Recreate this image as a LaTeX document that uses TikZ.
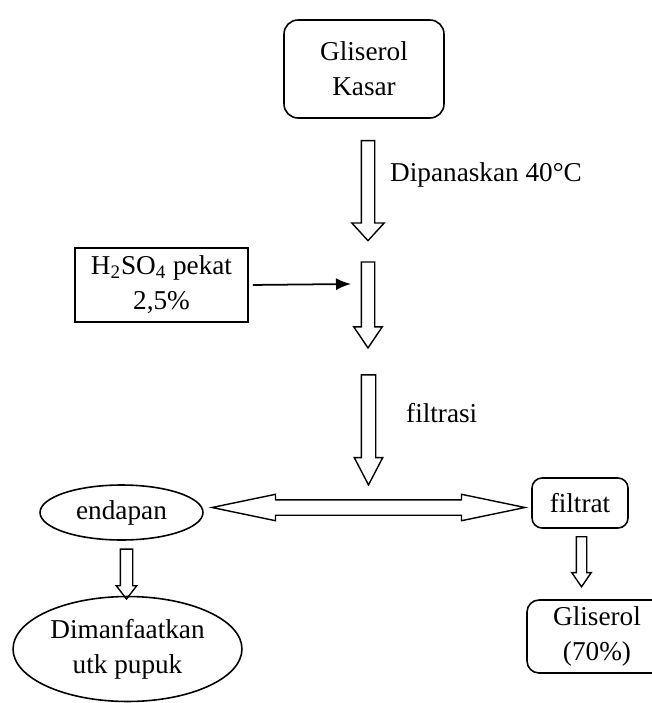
\documentclass[tikz,border=0pt]{standalone}
\usepackage{fontspec}
\setmainfont{Liberation Serif}
\usetikzlibrary{shapes,shapes.geometric,shapes.arrows,arrows.meta,positioning}

\tikzset{
  roundbox/.style={draw, line width=0.9pt, rounded corners=0.28cm, align=center, inner sep=0pt},
  plainbox/.style={draw, line width=0.9pt, align=center, inner sep=0pt},
  oval/.style={draw, ellipse, line width=0.9pt, align=center, inner sep=0pt},
  downarrow/.style={draw, single arrow, rotate=-90, line width=0.8pt, inner xsep=0pt,
    single arrow head extend=#1},
  botharrow/.style={draw, double arrow, line width=0.8pt, inner xsep=0pt,
    double arrow head extend=#1}
}

\begin{document}
\begin{tikzpicture}[x=0.02cm, y=-0.02cm, font=\fontsize{15.5}{20}\selectfont]
\useasboundingbox (0,0) rectangle (652,703);

% bahan awal
\node[roundbox, minimum width=3.2cm, minimum height=1.96cm] (kasar) at (364,69) {Gliserol\\Kasar};
\node[downarrow=0.19cm, inner ysep=0.12cm, minimum height=2cm, single arrow tip angle=85] (heat) at (368,187) {};
\node[anchor=base west] (heatlbl) at (384,181) {Dipanaskan 40°C};

% penambahan asam
\node[plainbox, minimum width=3.46cm, minimum height=1.48cm] (acid) at (161.5,285) {H\textsubscript{2}SO\textsubscript{4} pekat\\2,5\%};
\node[downarrow=0.15cm, inner ysep=0.12cm, minimum height=1.72cm, single arrow tip angle=68] (mix) at (368,300) {};
\coordinate (mixin) at (351,284);
\draw[line width=1pt, -{Latex[length=0.3cm,width=0.24cm]}, shorten <=0.08cm] (acid.east) -- (mixin);

% filtrasi
\node[downarrow=0.14cm, inner ysep=0.13cm, minimum height=2.2cm, single arrow tip angle=55] (filt) at (368.5,423) {};
\node[anchor=base west] (filtlbl) at (400,422) {filtrasi};
\node[botharrow=0.11cm, inner ysep=0.14cm, minimum height=6.26cm, double arrow tip angle=23.5] (split) at (368.5,507.5) {};

% endapan
\node[oval, minimum width=3.26cm, minimum height=1.1cm] (endapan) at (121.5,512.5) {endapan};
\node[downarrow=0.08cm, inner ysep=0.11cm, minimum height=1cm, single arrow tip angle=75] (toendapan) at (126.5,570) {};
\node[oval, minimum width=4.58cm, minimum height=2.1cm] (pupuk) at (127.5,649) {Dimanfaatkan\\utk pupuk};

% filtrat
\node[roundbox, rounded corners=0.2cm, minimum width=1.92cm, minimum height=1cm] (filtrat) at (580,503) {filtrat};
\node[downarrow=0.09cm, inner ysep=0.09cm, minimum height=1cm, single arrow tip angle=69] (tofiltrat) at (581.5,558) {};
\node[roundbox, rounded corners=0.24cm, minimum width=2.8cm, minimum height=1.46cm] (produk) at (597,636.5) {Gliserol\\(70\%)};
\end{tikzpicture}
\end{document}
